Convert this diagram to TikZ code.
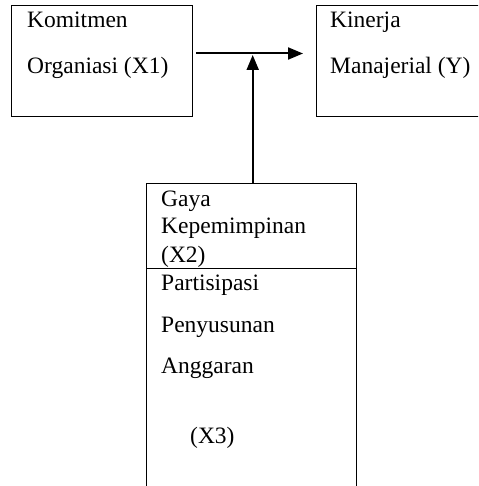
\documentclass[tikz,border=0pt]{standalone}
\usepackage{fontspec}
\setmainfont{Liberation Serif}
\usetikzlibrary{arrows.meta}

\tikzset{
  box/.style={draw, line width=1.3pt, rectangle, inner sep=0pt, anchor=north west},
  txt/.style={anchor=base west, inner sep=0pt, font=\fontsize{23.5}{28}\selectfont},
  arr/.style={-{Triangle[length=15pt,width=12pt]}, line width=2pt}
}

\begin{document}
\begin{tikzpicture}[x=1pt, y=-1pt]
    \useasboundingbox (0,0) rectangle (478,486);
    \clip (0,0) rectangle (478,486);
    % boxes
    \node (X1) [box, minimum width=181pt, minimum height=111pt] at (11,5) {};
    \node (Y) [box, minimum width=200pt, minimum height=111pt] at (316,5) {};
    \node (X2) [box, minimum width=210pt, minimum height=85pt] at (146,183) {};
    \node (X3) [box, minimum width=210pt, minimum height=240pt] at (146,268) {};
    % texts
    \node (X1a) [txt] at (27,28) {Komitmen};
    \node (X1b) [txt] at (27,74) {Organiasi (X1)};
    \node (Ya) [txt] at (330,28) {Kinerja};
    \node (Yb) [txt] at (330,74) {Manajerial (Y)};
    \node (X2a) [txt] at (161,206) {Gaya};
    \node (X2b) [txt] at (161,233) {Kepemimpinan};
    \node (X2c) [txt] at (161,262) {(X2)};
    \node (X3a) [txt] at (161,290) {Partisipasi};
    \node (X3b) [txt] at (161,332) {Penyusunan};
    \node (X3c) [txt] at (161,373) {Anggaran};
    \node (X3d) [txt] at (190,443) {(X3)};
    % arrows
    \coordinate (join) at (252.7,53.5);
    \draw[arr] ([xshift=3pt]X1.east |- join) -- ([xshift=-13pt]Y.west |- join);
    \draw[arr] (join |- X2.north) -- ([yshift=-1.5pt]join);
\end{tikzpicture}
\end{document}
